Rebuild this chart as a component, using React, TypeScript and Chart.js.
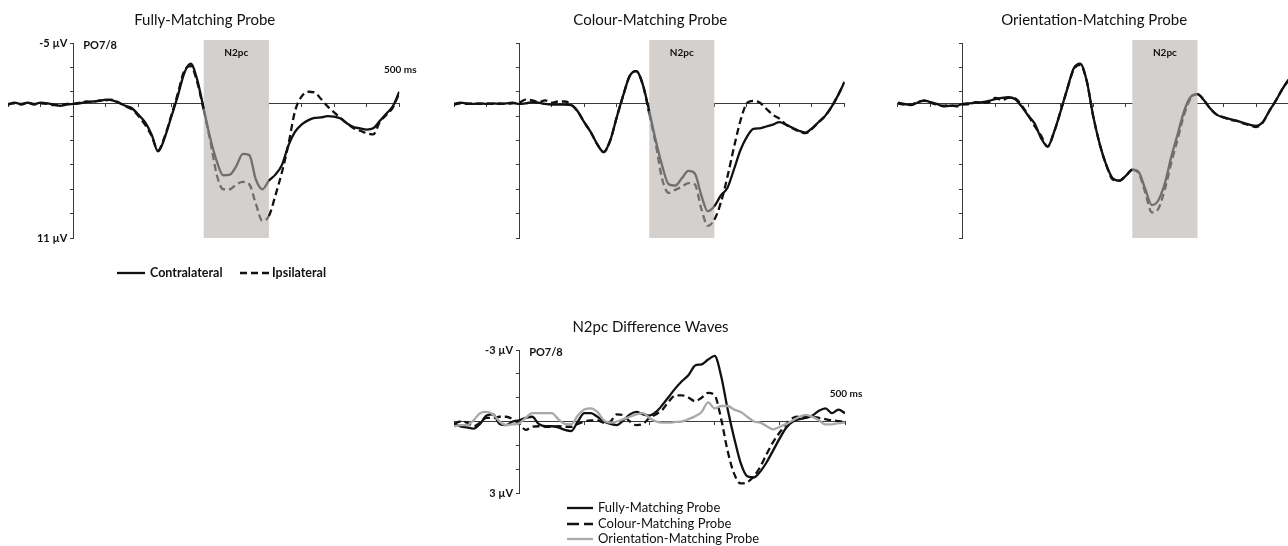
import React, { useEffect, useRef } from 'react';
import { Chart, registerables } from 'chart.js';
Chart.register(...registerables);

const FONT = 'Lato, "Open Sans", "DejaVu Sans", sans-serif';
const AXIS = '#3a3a3a';
const BLACK = '#111111';
const SHADE = '#d3d0cd';
const IN_SHADE = '#6f6f6f';
const LIGHT = '#a9a9a9';

// time axis (ms)
const timesMs = [
  -100, -90, -80, -70, -60, -50, -40, -30, -20, -10,
  0, 10, 20, 30, 40, 50, 60, 70, 80, 90,
  100, 110, 120, 130, 140, 150, 160, 170, 180, 190,
  200, 210, 220, 230, 240, 250, 260, 270, 280, 290,
  300, 310, 320, 330, 340, 350, 360, 370, 380, 390,
  400, 410, 420, 430, 440, 450, 460, 470, 480, 490,
  500,
];

// Fully-Matching Probe (µV)
const fullyContra = [
  0.05, -0.1, 0.0, -0.1, 0.0, -0.1, -0.05, 0.05, 0.15, 0.05,
  0.0, -0.05, -0.15, -0.2, -0.25, -0.35, -0.3, -0.1, 0.15, 0.35,
  0.9, 1.5, 2.5, 3.9, 2.8, 1.1, -0.6, -2.5, -3.3, -2.0,
  0.4, 2.8, 4.7, 5.85, 5.8, 5.1, 4.1, 4.2, 6.2, 7.0,
  6.3, 5.8, 5.0, 3.4, 2.3, 1.7, 1.35, 1.15, 1.1, 1.0,
  1.05, 1.2, 1.6, 1.9, 2.0, 2.1, 2.0, 1.4, 0.8, 0.2,
  -1.0,
];
const fullyIpsi = [
  0.0, -0.05, 0.05, -0.1, 0.05, -0.05, 0.0, 0.1, 0.1, 0.0,
  0.0, -0.1, -0.2, -0.15, -0.3, -0.3, -0.35, -0.1, 0.2, 0.45,
  1.0, 1.7, 2.6, 3.8, 2.7, 1.0, -0.8, -2.7, -3.1, -1.8,
  0.5, 3.0, 5.8, 7.0, 7.0, 6.6, 6.4, 6.6, 8.2, 9.6,
  9.2, 7.5, 5.6, 3.3, 0.6, -0.6, -1.0, -0.95, -0.4, 0.2,
  0.7, 1.15, 1.6, 2.0, 2.2, 2.4, 2.5, 1.5, 0.9, 0.3,
  -0.9,
];

// Colour-Matching Probe (µV)
const colourContra = [
  0.0, -0.1, -0.05, 0.0, -0.05, 0.0, -0.05, 0.0, -0.05, -0.1,
  0.0, -0.05, -0.15, -0.1, 0.0, 0.05, 0.05, 0.05, 0.1, 0.6,
  1.5, 2.3, 3.3, 3.95, 3.0, 1.1, -0.7, -2.3, -2.7, -1.6,
  0.6, 3.0, 5.1, 6.6, 6.7, 6.1, 5.5, 5.7, 7.5, 8.8,
  8.4, 7.5, 6.9, 5.4, 3.8, 2.7, 2.05, 2.0, 1.85, 1.7,
  1.5, 1.7, 1.95, 2.2, 2.35, 2.0, 1.5, 1.0, 0.25, -0.7,
  -1.8,
];
const colourIpsi = [
  0.05, -0.05, 0.0, -0.05, 0.0, -0.05, 0.0, -0.05, 0.0, -0.05,
  -0.1, -0.35, -0.3, -0.15, -0.3, -0.1, -0.2, -0.2, 0.05, 0.6,
  1.5, 2.3, 3.3, 3.95, 3.0, 1.1, -0.7, -2.3, -2.7, -1.6,
  0.8, 3.3, 6.2, 7.3, 7.05, 6.8, 6.5, 6.6, 8.6, 10.0,
  9.5, 8.1, 6.0, 3.6, 1.4, -0.05, -0.25, -0.1, 0.4, 0.9,
  1.2, 1.7, 2.0, 2.25, 2.4, 2.05, 1.5, 1.0, 0.25, -0.7,
  -1.8,
];

// Orientation-Matching Probe (µV)
const orientContra = [
  -0.1, 0.0, 0.1, -0.1, -0.3, -0.15, 0.0, 0.2, 0.15, 0.15,
  0.0, -0.05, -0.1, -0.15, -0.25, -0.4, -0.5, -0.55, -0.4, 0.2,
  0.95, 1.6, 2.8, 3.5, 2.3, 0.6, -1.2, -2.9, -3.3, -1.9,
  1.0, 3.3, 5.0, 6.1, 6.3, 5.9, 5.4, 5.6, 7.0, 8.3,
  7.9, 6.5, 4.3, 2.4, 0.5, -0.6, -0.8, -0.3, 0.4, 0.9,
  1.1, 1.25, 1.37, 1.55, 1.7, 1.8, 1.5, 0.6, -0.25, -1.2,
  -2.0,
];
const orientIpsi = [
  -0.05, 0.05, 0.05, -0.15, -0.25, -0.1, 0.05, 0.15, 0.1, 0.2,
  0.05, 0.0, -0.15, -0.1, -0.15, -0.5, -0.3, -0.5, -0.45, 0.1,
  0.9, 1.8, 2.6, 3.5, 2.3, 0.6, -1.2, -2.8, -3.2, -1.9,
  1.0, 3.3, 5.0, 6.2, 6.3, 5.9, 5.4, 5.7, 7.3, 8.9,
  8.6, 7.0, 4.8, 2.8, 0.8, -0.5, -0.8, -0.3, 0.4, 0.9,
  1.1, 1.3, 1.4, 1.6, 1.75, 1.9, 1.55, 0.6, -0.25, -1.2,
  -2.0,
];

// N2pc difference waves (µV)
const diffFully = [
  0.1, 0.2, 0.25, 0.3, 0.1, -0.25, -0.3, 0.1, 0.15, 0.0,
  -0.05, -0.15, -0.2, 0.1, 0.2, 0.2, 0.25, 0.35, 0.4, 0.0,
  -0.35, -0.35, -0.2, 0.0, 0.1, 0.15, -0.05, -0.3, -0.4, -0.3,
  -0.25, -0.4, -0.7, -1.05, -1.4, -1.7, -1.95, -2.35, -2.4, -2.6,
  -2.75, -1.9, -0.5, 0.7, 1.75, 2.3, 2.35, 2.1, 1.7, 1.2,
  0.7, 0.25, 0.0, -0.1, -0.15, -0.25, -0.45, -0.55, -0.35, -0.5,
  -0.35,
];
const diffColour = [
  0.1, 0.0, 0.05, 0.2, 0.05, -0.15, -0.15, -0.2, -0.2, -0.1,
  0.1, 0.35, 0.22, 0.2, 0.22, 0.22, 0.2, 0.22, 0.22, 0.1,
  0.0, -0.05, -0.05, 0.05, 0.0, -0.3, -0.25, 0.0, 0.15, 0.1,
  -0.15, -0.3, -0.5, -0.85, -1.1, -1.1, -1.0, -0.85, -1.0, -1.2,
  -1.1, -0.1, 1.25, 2.2, 2.6, 2.55, 2.3, 1.9, 1.35, 0.85,
  0.45, 0.1, -0.15, -0.2, -0.18, -0.2, -0.15, -0.1, -0.05, -0.02,
  0.0,
];
const diffOrient = [
  0.2, 0.15, 0.15, -0.05, -0.35, -0.4, -0.3, 0.0, 0.15, 0.12,
  0.08, -0.15, -0.35, -0.35, -0.35, -0.35, -0.1, 0.1, 0.12, -0.25,
  -0.5, -0.55, -0.4, -0.05, 0.05, 0.0, -0.1, -0.2, -0.3, -0.35,
  -0.15, 0.0, 0.05, 0.05, 0.02, 0.0, -0.1, -0.22, -0.4, -0.8,
  -0.55, -0.65, -0.65, -0.5, -0.4, -0.2, 0.0, 0.05, 0.2, 0.33,
  0.22, 0.1, -0.05, -0.2, -0.28, -0.2, -0.05, 0.12, 0.12, 0.07,
  0.05,
];

const panelTitles = ['Fully-Matching Probe', 'Colour-Matching Probe', 'Orientation-Matching Probe', 'N2pc Difference Waves'];
const n2pcWindows = [[200, 300], [200, 300], [260, 360]];
const lateralityLabels = ['Contralateral', 'Ipsilateral'];
const diffLabels = ['Fully-Matching Probe', 'Colour-Matching Probe', 'Orientation-Matching Probe'];
const erpYRange = [-5, 11];
const diffYRange = [-3, 3];
const erpYLabels = ['-5 µV', '11 µV'];
const diffYLabels = ['-3 µV', '3 µV'];
const siteLabel = 'PO7/8';
const msLabel = '500 ms';
const windowLabel = 'N2pc';

type Series = { label: string; data: number[]; color: string; dash: number[] };
type LegendItem = { label: string; color: string; dash: number[]; x1: number; x2: number; y: number; tx: number; font: string };
type Panel = {
  key: string; title: string; left: number; top: number; width: number; height: number;
  pad: { left: number; top: number; right: number; bottom: number };
  yMin: number; yMax: number; yStep: number; xStep: number;
  series: Series[]; win?: number[]; yLabels?: string[]; showSite: boolean; msDy?: number;
  legend: LegendItem[];
};

const LEG1 = 'bold 12.5px ' + FONT;
const LEG2 = '13px ' + FONT;
const LINE_W = 2.3;

const panels: Panel[] = [
  {
    key: 'p1', title: panelTitles[0], left: 0, top: 0, width: 440, height: 290,
    pad: { left: 8.1, top: 43, right: 40.7, bottom: 52 },
    yMin: erpYRange[0], yMax: erpYRange[1], yStep: 2, xStep: 50,
    series: [
      { label: lateralityLabels[0], data: fullyContra, color: BLACK, dash: [] },
      { label: lateralityLabels[1], data: fullyIpsi, color: BLACK, dash: [7, 4] },
    ],
    win: n2pcWindows[0], yLabels: erpYLabels, showSite: true, msDy: -34,
    legend: [
      { label: lateralityLabels[0], color: BLACK, dash: [], x1: 117, x2: 145, y: 273, tx: 150, font: LEG1 },
      { label: lateralityLabels[1], color: BLACK, dash: [7, 4], x1: 240, x2: 269, y: 273, tx: 272, font: LEG1 },
    ],
  },
  {
    key: 'p2', title: panelTitles[1], left: 440, top: 0, width: 440, height: 290,
    pad: { left: 14, top: 43, right: 35.5, bottom: 52 },
    yMin: erpYRange[0], yMax: erpYRange[1], yStep: 2, xStep: 50,
    series: [
      { label: lateralityLabels[0], data: colourContra, color: BLACK, dash: [] },
      { label: lateralityLabels[1], data: colourIpsi, color: BLACK, dash: [7, 4] },
    ],
    win: n2pcWindows[1], showSite: false, legend: [],
  },
  {
    key: 'p3', title: panelTitles[2], left: 880, top: 0, width: 420, height: 290,
    pad: { left: 17.7, top: 43, right: 11.3, bottom: 52 },
    yMin: erpYRange[0], yMax: erpYRange[1], yStep: 2, xStep: 50,
    series: [
      { label: lateralityLabels[0], data: orientContra, color: BLACK, dash: [] },
      { label: lateralityLabels[1], data: orientIpsi, color: BLACK, dash: [7, 4] },
    ],
    win: n2pcWindows[2], showSite: false, legend: [],
  },
  {
    key: 'p4', title: panelTitles[3], left: 440, top: 290, width: 440, height: 256,
    pad: { left: 14, top: 60, right: 35, bottom: 53 },
    yMin: diffYRange[0], yMax: diffYRange[1], yStep: 1, xStep: 100,
    series: [
      { label: diffLabels[2], data: diffOrient, color: LIGHT, dash: [] },
      { label: diffLabels[1], data: diffColour, color: BLACK, dash: [7, 4] },
      { label: diffLabels[0], data: diffFully, color: BLACK, dash: [] },
    ],
    yLabels: diffYLabels, showSite: true, msDy: -28,
    legend: [
      { label: diffLabels[0], color: BLACK, dash: [], x1: 127, x2: 153, y: 218, tx: 158, font: LEG2 },
      { label: diffLabels[1], color: BLACK, dash: [12, 5], x1: 127, x2: 153, y: 234, tx: 158, font: LEG2 },
      { label: diffLabels[2], color: LIGHT, dash: [], x1: 127, x2: 153, y: 249, tx: 158, font: LEG2 },
    ],
  },
];

function ChartPanel({ p }: { p: Panel }) {
  const ref = useRef<HTMLCanvasElement>(null);
  useEffect(() => {
    const canvas = ref.current;
    if (!canvas) return;
    const overlay = {
      id: 'overlay_' + p.key,
      beforeDatasetsDraw(chart: any) {
        if (!p.win) return;
        const { ctx, chartArea: ca, scales } = chart;
        const x0 = scales.x.getPixelForValue(p.win[0]);
        const x1 = scales.x.getPixelForValue(p.win[1]);
        ctx.save();
        ctx.fillStyle = SHADE;
        ctx.fillRect(x0, ca.top - 3, x1 - x0, ca.bottom - ca.top + 3);
        ctx.restore();
      },
      afterDraw(chart: any) {
        const { ctx, chartArea: ca, scales } = chart;
        const xZero = scales.x.getPixelForValue(0);
        const yZero = scales.y.getPixelForValue(0);
        ctx.save();
        ctx.textBaseline = 'middle';
        ctx.fillStyle = '#111';
        ctx.font = '15px ' + FONT;
        ctx.textAlign = 'center';
        ctx.fillText(p.title, (ca.left + ca.right) / 2 + 1, ca.top - 23);
        ctx.font = 'bold 11px ' + FONT;
        if (p.yLabels) {
          ctx.textAlign = 'right';
          ctx.fillText(p.yLabels[0], xZero - 6, scales.y.getPixelForValue(p.yMin));
          ctx.fillText(p.yLabels[1], xZero - 6, scales.y.getPixelForValue(p.yMax));
        }
        if (p.showSite) {
          ctx.textAlign = 'left';
          ctx.fillText(siteLabel, xZero + 10, ca.top + 2);
        }
        ctx.font = 'bold 10px ' + FONT;
        if (p.msDy !== undefined) {
          ctx.textAlign = 'center';
          ctx.fillText(msLabel, scales.x.getPixelForValue(500) + 1, yZero + p.msDy);
        }
        if (p.win) {
          ctx.textAlign = 'center';
          const cx = (scales.x.getPixelForValue(p.win[0]) + scales.x.getPixelForValue(p.win[1])) / 2;
          ctx.fillText(windowLabel, cx, ca.top + 10);
        }
        for (const it of p.legend) {
          ctx.beginPath();
          ctx.setLineDash(it.dash);
          ctx.strokeStyle = it.color;
          ctx.lineWidth = LINE_W;
          ctx.moveTo(it.x1, it.y);
          ctx.lineTo(it.x2, it.y);
          ctx.stroke();
          ctx.setLineDash([]);
          ctx.font = it.font;
          ctx.textAlign = 'left';
          ctx.fillStyle = '#111';
          ctx.fillText(it.label, it.tx, it.y);
        }
        ctx.restore();
      },
    };
    const win = p.win;
    const chart = new Chart(canvas, {
      type: 'line',
      data: {
        datasets: p.series.map((s) => ({
          label: s.label,
          data: timesMs.map((t, i) => ({ x: t, y: s.data[i] })),
          borderColor: s.color,
          borderWidth: LINE_W,
          borderDash: s.dash,
          borderJoinStyle: 'round',
          pointRadius: 0,
          pointHoverRadius: 0,
          fill: false,
          cubicInterpolationMode: 'monotone',
          segment: win
            ? { borderColor: (c: any) => (c.p0.parsed.x >= win[0] && c.p1.parsed.x <= win[1] ? IN_SHADE : s.color) }
            : undefined,
        })),
      },
      options: {
        responsive: false,
        animation: false,
        events: [],
        layout: { padding: p.pad },
        plugins: { legend: { display: false }, title: { display: false }, tooltip: { enabled: false } },
        scales: {
          x: {
            type: 'linear', min: -100, max: 500, position: { y: 0 },
            ticks: { display: false, stepSize: p.xStep },
            grid: { drawOnChartArea: false, drawTicks: true, tickLength: 3, color: AXIS, lineWidth: 1 },
            border: { display: true, color: AXIS, width: 1 },
          },
          y: {
            type: 'linear', min: p.yMin, max: p.yMax, reverse: true, position: { x: 0 },
            ticks: { display: false, stepSize: p.yStep },
            grid: { drawOnChartArea: false, drawTicks: true, tickLength: 3, color: AXIS, lineWidth: 1 },
            border: { display: true, color: AXIS, width: 1 },
          },
        },
      } as any,
      plugins: [overlay],
    } as any);
    return () => chart.destroy();
  }, [p]);
  return (
    <canvas
      ref={ref}
      width={p.width}
      height={p.height}
      style={{ position: 'absolute', left: p.left, top: p.top, width: p.width, height: p.height }}
    />
  );
}

export default function App() {
  return (
    <div style={{ position: 'fixed', left: 0, top: 0, width: 1288, height: 546, overflow: 'hidden', background: '#fff' }}>
      {panels.map((p) => (
        <ChartPanel key={p.key} p={p} />
      ))}
    </div>
  );
}
